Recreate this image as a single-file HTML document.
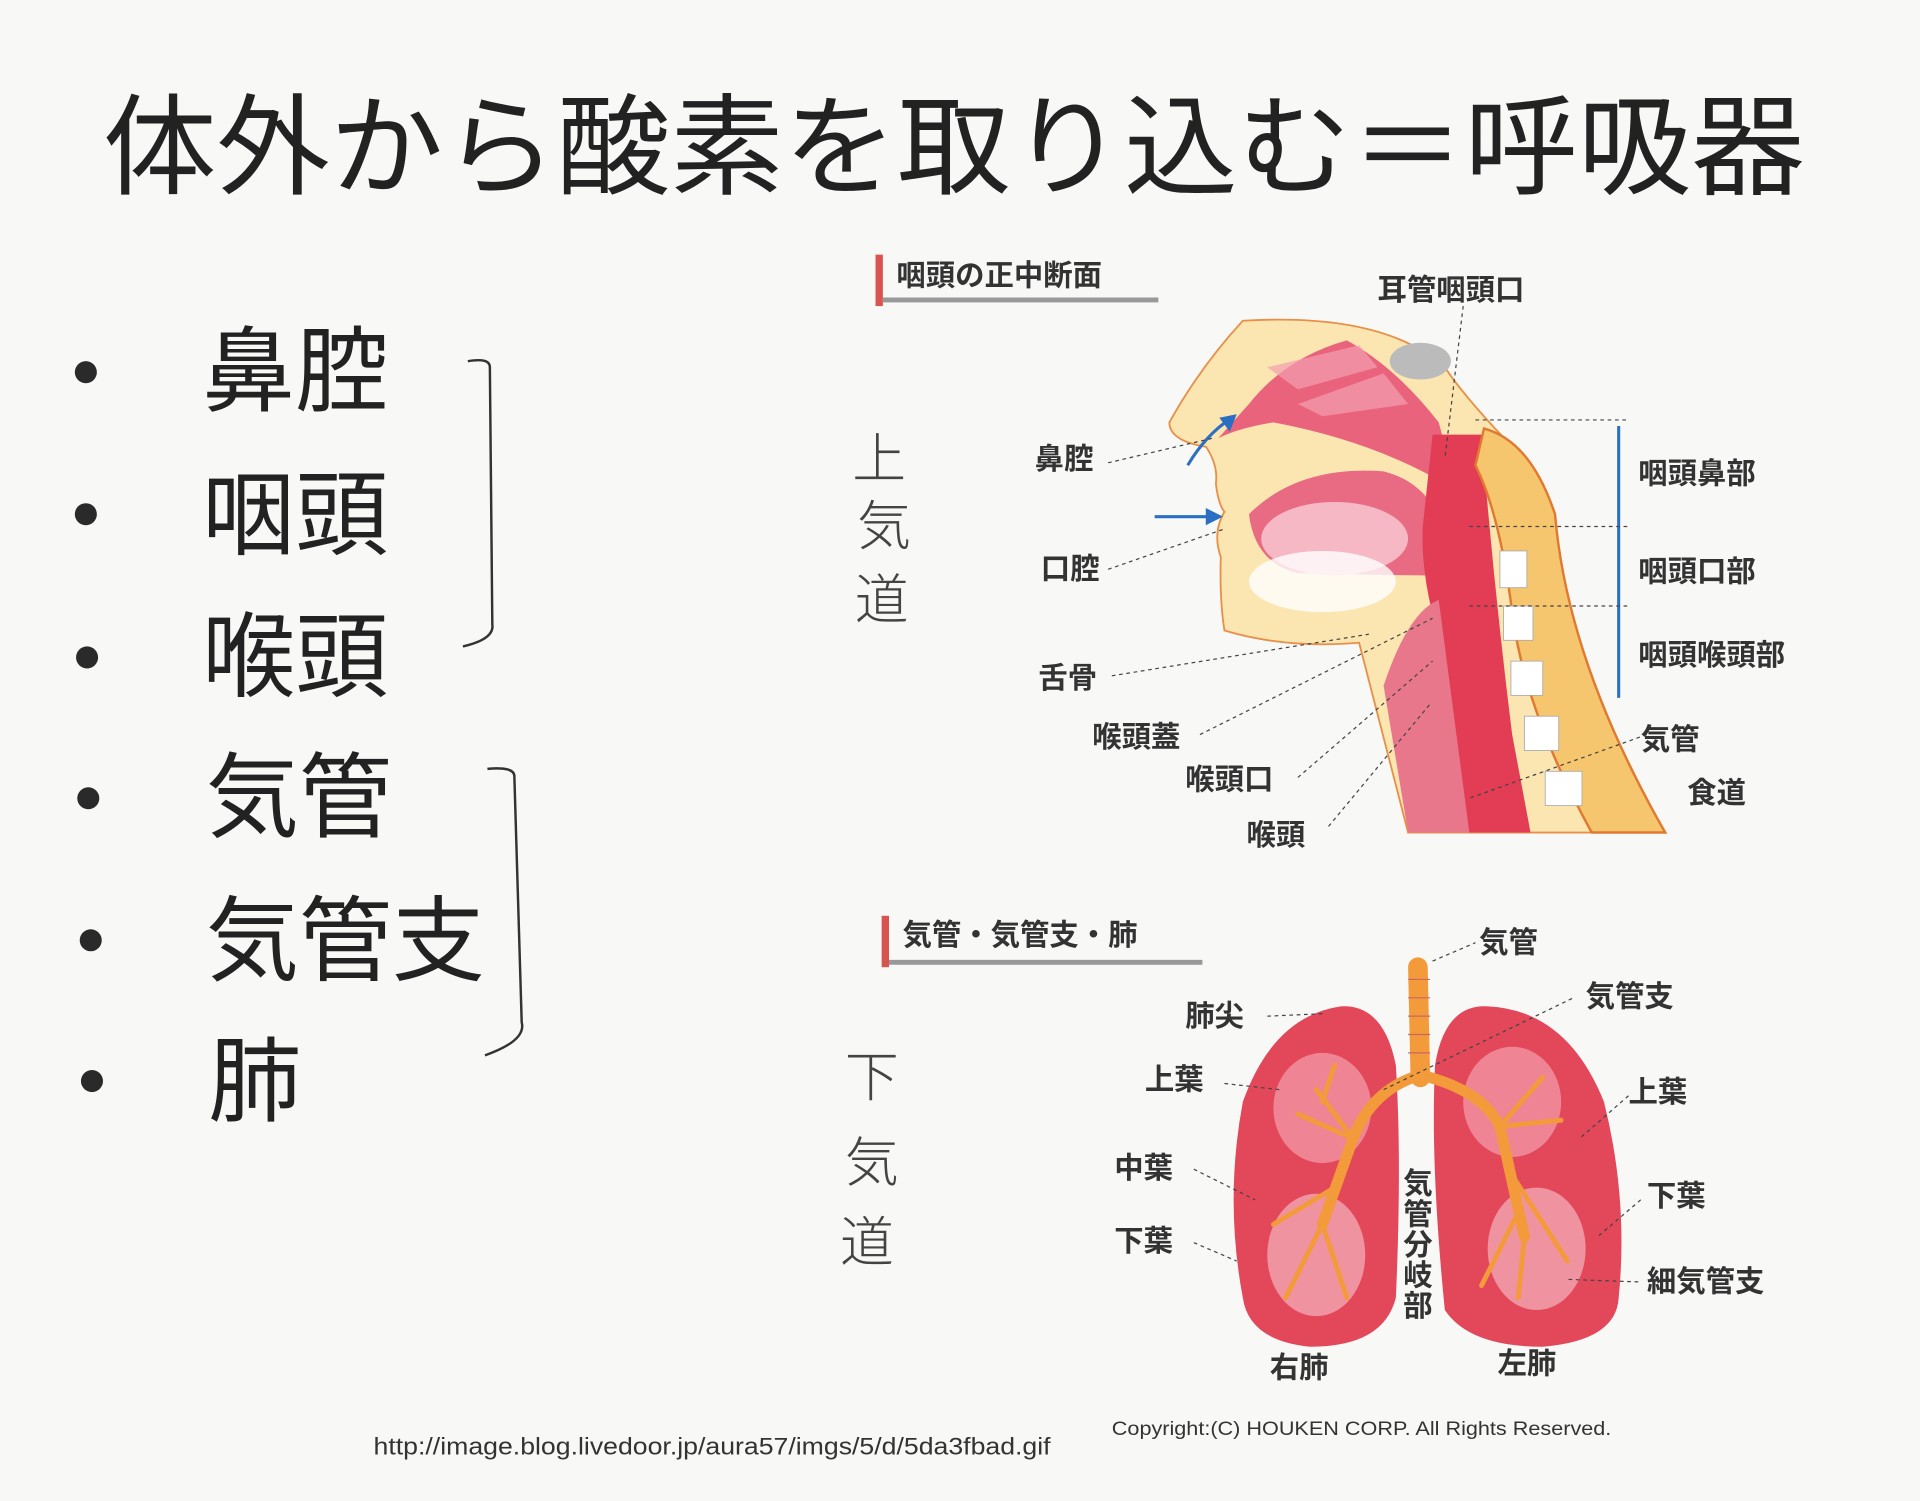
<!DOCTYPE html>
<html><head><meta charset="utf-8"><style>
html,body{margin:0;padding:0;background:#f8f8f6;}
svg{display:block}
text{font-family:"Liberation Sans","Noto Sans CJK JP",sans-serif;}
</style></head><body>
<svg width="1920" height="1501" viewBox="0 0 1568 1226" xmlns="http://www.w3.org/2000/svg">
<rect width="1568" height="1226" fill="#f8f8f6"/>
<text x="84" y="152" font-size="90" fill="#222" textLength="1390" lengthAdjust="spacingAndGlyphs">体外から酸素を取り込む＝呼吸器</text>
<g fill="#2a2a2a">
<circle cx="70" cy="304" r="9"/><circle cx="70" cy="420" r="9"/><circle cx="71" cy="537" r="9"/>
<circle cx="72" cy="652" r="9"/><circle cx="74" cy="768" r="9"/><circle cx="75" cy="883" r="9"/>
</g>
<g font-size="76" fill="#222">
<text x="165" y="330">鼻腔</text>
<text x="165" y="447">咽頭</text>
<text x="165" y="563">喉頭</text>
<text x="168" y="678">気管</text>
<text x="168" y="795">気管支</text>
<text x="170" y="910">肺</text>
</g>
<g fill="none" stroke="#333" stroke-width="2">
<path d="M382 295 Q400 292 400 300 L402 510 Q404 522 378 528"/>
<path d="M398 628 Q420 626 420 634 L426 835 Q430 850 396 862"/>
</g>
<g font-family="'Noto Serif CJK SC',serif" font-size="44" fill="#444" font-weight="200">
<text x="696" y="390">上</text><text x="700" y="445">気</text><text x="698" y="505">道</text>
<text x="690" y="895">下</text><text x="690" y="965">気</text><text x="686" y="1030">道</text>
</g>
<rect x="715" y="208" width="6" height="42" fill="#d9534f"/>
<rect x="721" y="243" width="225" height="4" fill="#999"/>
<text x="732" y="233" font-size="24" font-weight="bold" fill="#333">咽頭の正中断面</text>
<rect x="720" y="748" width="6" height="42" fill="#d9534f"/>
<rect x="726" y="784" width="256" height="4" fill="#999"/>
<text x="737" y="772" font-size="24" font-weight="bold" fill="#333">気管・気管支・肺</text>
<path d="M1015 262 Q980 300 955 345 Q955 360 985 365 Q995 380 993 395 Q995 412 1000 418 Q990 435 997 455 Q996 490 1000 515 Q1050 530 1110 525 L1150 680 L1360 680 Q1300 600 1270 520 Q1260 420 1250 380 Q1200 330 1180 300 Q1130 255 1015 262Z" fill="#fbe5b0" stroke="#e8904a" stroke-width="1.5"/>
<path d="M1020 330 Q1050 292 1100 278 Q1140 300 1175 345 Q1185 380 1180 395 Q1120 360 1040 345 Q1010 350 995 358Z" fill="#e9637c"/>
<path d="M1035 300 L1110 282 L1125 300 L1060 318Z M1060 330 L1130 305 L1150 330 L1080 340Z" fill="#f3a0b0" opacity=".7"/>
<path d="M1020 420 Q1060 380 1130 385 Q1170 395 1182 440 L1180 470 Q1130 470 1060 468 Q1025 460 1020 420Z" fill="#e86b83"/>
<ellipse cx="1090" cy="440" rx="60" ry="30" fill="#f6b8c4"/>
<ellipse cx="1080" cy="475" rx="60" ry="25" fill="#fff" opacity=".8"/>
<path d="M1170 355 L1210 355 Q1220 480 1235 600 L1250 680 L1195 680 Q1180 580 1175 520 Q1160 470 1162 430Z" fill="#e33c55"/>
<path d="M1130 560 Q1150 500 1175 490 L1200 680 L1150 680Z" fill="#e8778c"/>
<path d="M1212 350 Q1250 360 1270 420 Q1280 540 1360 680 L1300 680 Q1245 580 1235 500 Q1225 420 1205 380Z" fill="#f6c66e" stroke="#e07a30" stroke-width="2"/>
<g fill="#fff" stroke="#aaa" stroke-width=".7">
<rect x="1225" y="450" width="22" height="30"/><rect x="1228" y="495" width="24" height="28"/>
<rect x="1234" y="540" width="26" height="28"/><rect x="1245" y="585" width="28" height="28"/><rect x="1262" y="630" width="30" height="28"/>
</g>
<ellipse cx="1160" cy="295" rx="25" ry="15" fill="#bbb"/>
<g stroke="#2b6fc4" stroke-width="2.5" fill="#2b6fc4">
<path d="M970 380 Q985 355 1005 342" fill="none"/><polygon points="1008,340 998,342 1004,350"/>
<line x1="943" y1="422" x2="990" y2="422"/><polygon points="996,422 986,417 986,427"/>
<line x1="1322" y1="348" x2="1322" y2="570"/>
</g>
<g stroke="#444" stroke-dasharray="3,3" stroke-width="1">
<line x1="1205" y1="343" x2="1330" y2="343"/><line x1="1200" y1="430" x2="1330" y2="430"/><line x1="1200" y1="495" x2="1330" y2="495"/>
<line x1="905" y1="378" x2="990" y2="358"/><line x1="905" y1="465" x2="1000" y2="432"/>
<line x1="908" y1="552" x2="1118" y2="518"/><line x1="980" y1="600" x2="1170" y2="505"/>
<line x1="1060" y1="635" x2="1170" y2="540"/><line x1="1085" y1="675" x2="1168" y2="575"/>
<line x1="1195" y1="250" x2="1180" y2="375"/><line x1="1345" y1="600" x2="1200" y2="652"/>
</g>
<g font-size="24" font-weight="bold" fill="#333">
<text x="1125" y="245">耳管咽頭口</text>
<text x="845" y="383">鼻腔</text><text x="850" y="473">口腔</text><text x="848" y="562">舌骨</text>
<text x="892" y="610">喉頭蓋</text><text x="968" y="645">喉頭口</text><text x="1018" y="690">喉頭</text>
<text x="1338" y="395">咽頭鼻部</text><text x="1338" y="475">咽頭口部</text><text x="1338" y="543">咽頭喉頭部</text>
<text x="1340" y="612">気管</text><text x="1378" y="656">食道</text>
</g>
<path d="M1095 822 Q1130 820 1140 870 Q1145 950 1140 1060 Q1130 1100 1070 1100 Q1020 1095 1015 1060 Q1000 980 1015 900 Q1040 830 1095 822Z" fill="#e2485a"/>
<path d="M1215 822 Q1180 820 1172 870 Q1168 950 1180 1070 Q1200 1100 1260 1100 Q1320 1095 1322 1060 Q1330 980 1310 900 Q1280 825 1215 822Z" fill="#e2485a"/>
<ellipse cx="1080" cy="905" rx="40" ry="45" fill="#f5a0ad" opacity=".7"/>
<ellipse cx="1235" cy="900" rx="40" ry="45" fill="#f5a0ad" opacity=".7"/>
<ellipse cx="1075" cy="1025" rx="40" ry="50" fill="#f7b3bd" opacity=".7"/>
<ellipse cx="1255" cy="1020" rx="40" ry="50" fill="#f7b3bd" opacity=".7"/>
<g stroke="#f39a3a" stroke-linecap="round" fill="none">
<path d="M1158 790 L1160 880" stroke-width="16"/>
<path d="M1160 878 Q1120 890 1105 930 L1080 1000" stroke-width="9"/>
<path d="M1160 878 Q1210 890 1225 920 L1245 1010" stroke-width="9"/>
<path d="M1105 930 L1075 890 M1105 930 L1060 910 M1090 970 L1040 1000 M1085 990 L1050 1060 M1080 1000 L1100 1060 M1080 900 L1090 870 M1225 920 L1260 880 M1225 920 L1275 915 M1235 960 L1280 1030 M1245 1010 L1240 1060 M1240 990 L1210 1050" stroke-width="4"/>
</g>
<g stroke="#c66" stroke-width="1"><line x1="1150" y1="800" x2="1168" y2="800"/><line x1="1150" y1="815" x2="1168" y2="815"/><line x1="1150" y1="830" x2="1168" y2="830"/><line x1="1150" y1="845" x2="1168" y2="845"/><line x1="1150" y1="860" x2="1168" y2="860"/></g>
<g stroke="#444" stroke-dasharray="3,3" stroke-width="1">
<line x1="1170" y1="785" x2="1205" y2="770"/><line x1="1130" y1="890" x2="1285" y2="815"/>
<line x1="1035" y1="830" x2="1080" y2="828"/><line x1="1000" y1="885" x2="1045" y2="890"/>
<line x1="975" y1="955" x2="1025" y2="980"/><line x1="975" y1="1015" x2="1010" y2="1030"/>
<line x1="1330" y1="895" x2="1290" y2="930"/><line x1="1340" y1="980" x2="1305" y2="1010"/><line x1="1338" y1="1047" x2="1280" y2="1045"/>
</g>
<g font-size="24" font-weight="bold" fill="#333">
<text x="1208" y="778">気管</text><text x="1295" y="822">気管支</text><text x="968" y="838">肺尖</text>
<text x="935" y="890">上葉</text><text x="910" y="962">中葉</text><text x="910" y="1022">下葉</text>
<text x="1330" y="900">上葉</text><text x="1345" y="985">下葉</text><text x="1345" y="1055">細気管支</text>
<text x="1037" y="1125">右肺</text><text x="1223" y="1122">左肺</text>
</g>
<g font-size="24" font-weight="bold" fill="#333">
<text x="1146" y="975">気</text><text x="1146" y="1000">管</text><text x="1146" y="1025">分</text><text x="1146" y="1050">岐</text><text x="1146" y="1075">部</text>
</g>
<text x="305" y="1188" font-size="20" fill="#333" textLength="553" lengthAdjust="spacingAndGlyphs">http://image.blog.livedoor.jp/aura57/imgs/5/d/5da3fbad.gif</text>
<text x="908" y="1172" font-size="16" fill="#333" textLength="408" lengthAdjust="spacingAndGlyphs">Copyright:(C) HOUKEN CORP. All Rights Reserved.</text>
</svg>
</body></html>
